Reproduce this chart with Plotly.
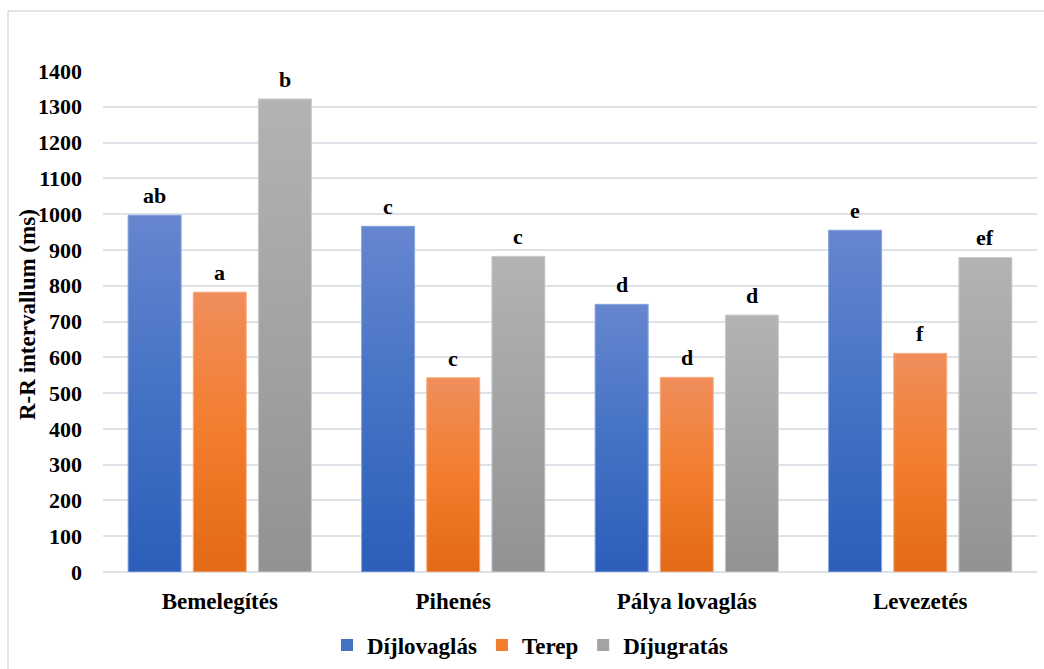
import plotly.graph_objects as go

# Mean R-R interval per riding phase and discipline
categories = ["Bemelegítés", "Pihenés", "Pálya lovaglás", "Levezetés"]
series_names = ["Díjlovaglás", "Terep", "Díjugratás"]
dijlovaglas = [997, 966, 748, 955]
terep = [782, 543, 544, 611]
dijugratas = [1322, 882, 718, 879]
letters_dijlovaglas = ["ab", "c", "d", "e"]
letters_terep = ["a", "c", "d", "f"]
letters_dijugratas = ["b", "c", "d", "ef"]
y_ticks = list(range(0, 1401, 100))

series_values = [dijlovaglas, terep, dijugratas]
series_letters = [letters_dijlovaglas, letters_terep, letters_dijugratas]
# (bottom, middle, top) colours of each series' vertical gradient
series_colors = [
    ("#2c5eba", "#4472c4", "#6686cf"),
    ("#e36a16", "#f27d2d", "#f08e5c"),
    ("#929292", "#a3a3a3", "#b3b3b3"),
]
edge_colors = ["#8fa8de", "#f5b48c", "#cfcfcf"]

W, H = 1044, 669
ML, MR, MT, MB = 103, 7, 71, 97
plot_w = W - ML - MR
plot_h = H - MT - MB

def px_to_paper_x(px):
    return (px - ML) / plot_w

def px_to_paper_y(py):
    return (H - MB - py) / plot_h

FONT = "Liberation Serif"
BOLD = dict(family=FONT, size=22, color="#000000", weight="bold")
BOLD_L = dict(BOLD, size=23)
slot = 0.279
bar_w = 0.227
xpos = list(range(len(categories)))

fig = go.Figure()
annotations = []

for k, (name, vals, letters, cols, edge) in enumerate(
        zip(series_names, series_values, series_letters, series_colors, edge_colors)):
    offset = (k - 1) * slot - bar_w / 2
    fig.add_trace(go.Bar(
        name=name, x=xpos, y=vals, width=bar_w, offset=offset,
        marker=dict(color=cols[1], line=dict(width=0)),
        showlegend=True,
    ))
    for xi, v, lab in zip(xpos, vals, letters):
        x0 = xi + offset
        x1 = x0 + bar_w
        # gradient overlay following the bar's own extent
        fig.add_trace(go.Scatter(
            x=[x0, x1, x1, x0, x0], y=[0, 0, v, v, 0],
            mode="lines", fill="toself",
            line=dict(width=1, color=edge),
            fillgradient=dict(type="vertical",
                              colorscale=[[0, cols[0]], [0.5, cols[1]], [1, cols[2]]]),
            hoverinfo="skip", showlegend=False,
        ))
        # significance letter above the bar
        annotations.append(dict(
            x=(x0 + x1) / 2, y=v, xref="x", yref="y",
            text=lab, showarrow=False,
            xanchor="center", yanchor="bottom", yshift=5,
            font=BOLD,
        ))

annotations.append(dict(
    text="R-R intervallum (ms)", textangle=-90,
    xref="paper", yref="paper",
    x=px_to_paper_x(27), y=px_to_paper_y(315),
    xanchor="center", yanchor="middle", showarrow=False,
    font=BOLD_L,
))

fig.update_layout(
    template="none",
    width=W, height=H,
    margin=dict(l=ML, r=MR, t=MT, b=MB, autoexpand=False),
    paper_bgcolor="#ffffff", plot_bgcolor="#ffffff",
    barmode="overlay",
    font=BOLD,
    showlegend=True,
    legend=dict(
        orientation="h", xanchor="center", yanchor="middle",
        x=px_to_paper_x(530), y=px_to_paper_y(645),
        font=BOLD_L,
        itemwidth=30, tracegroupgap=0,
        traceorder="normal",
    ),
    xaxis=dict(
        range=[-0.5, len(categories) - 0.5],
        tickmode="array", tickvals=xpos, ticktext=categories,
        tickfont=BOLD_L,
        showgrid=False, zeroline=False, showline=False,
        ticks="", ticklabelstandoff=13,
    ),
    yaxis=dict(
        range=[0, 1400], tickmode="array", tickvals=y_ticks,
        ticktext=[str(t) for t in y_ticks],
        tickfont=BOLD,
        showgrid=True, gridcolor="#dde1e8", gridwidth=1.5,
        zeroline=True, zerolinecolor="#dde1e8", zerolinewidth=1.5,
        showline=False, ticks="", ticklabelstandoff=20,
    ),
    annotations=annotations,
    shapes=[
        dict(type="line", xref="paper", yref="paper",
             x0=px_to_paper_x(8), x1=px_to_paper_x(8),
             y0=px_to_paper_y(11), y1=px_to_paper_y(680),
             line=dict(color="#d9dde3", width=1.5)),
        dict(type="line", xref="paper", yref="paper",
             x0=px_to_paper_x(8), x1=px_to_paper_x(1050),
             y0=px_to_paper_y(11), y1=px_to_paper_y(11),
             line=dict(color="#d9dde3", width=1.5)),
    ],
)

fig.write_html("out.html")
